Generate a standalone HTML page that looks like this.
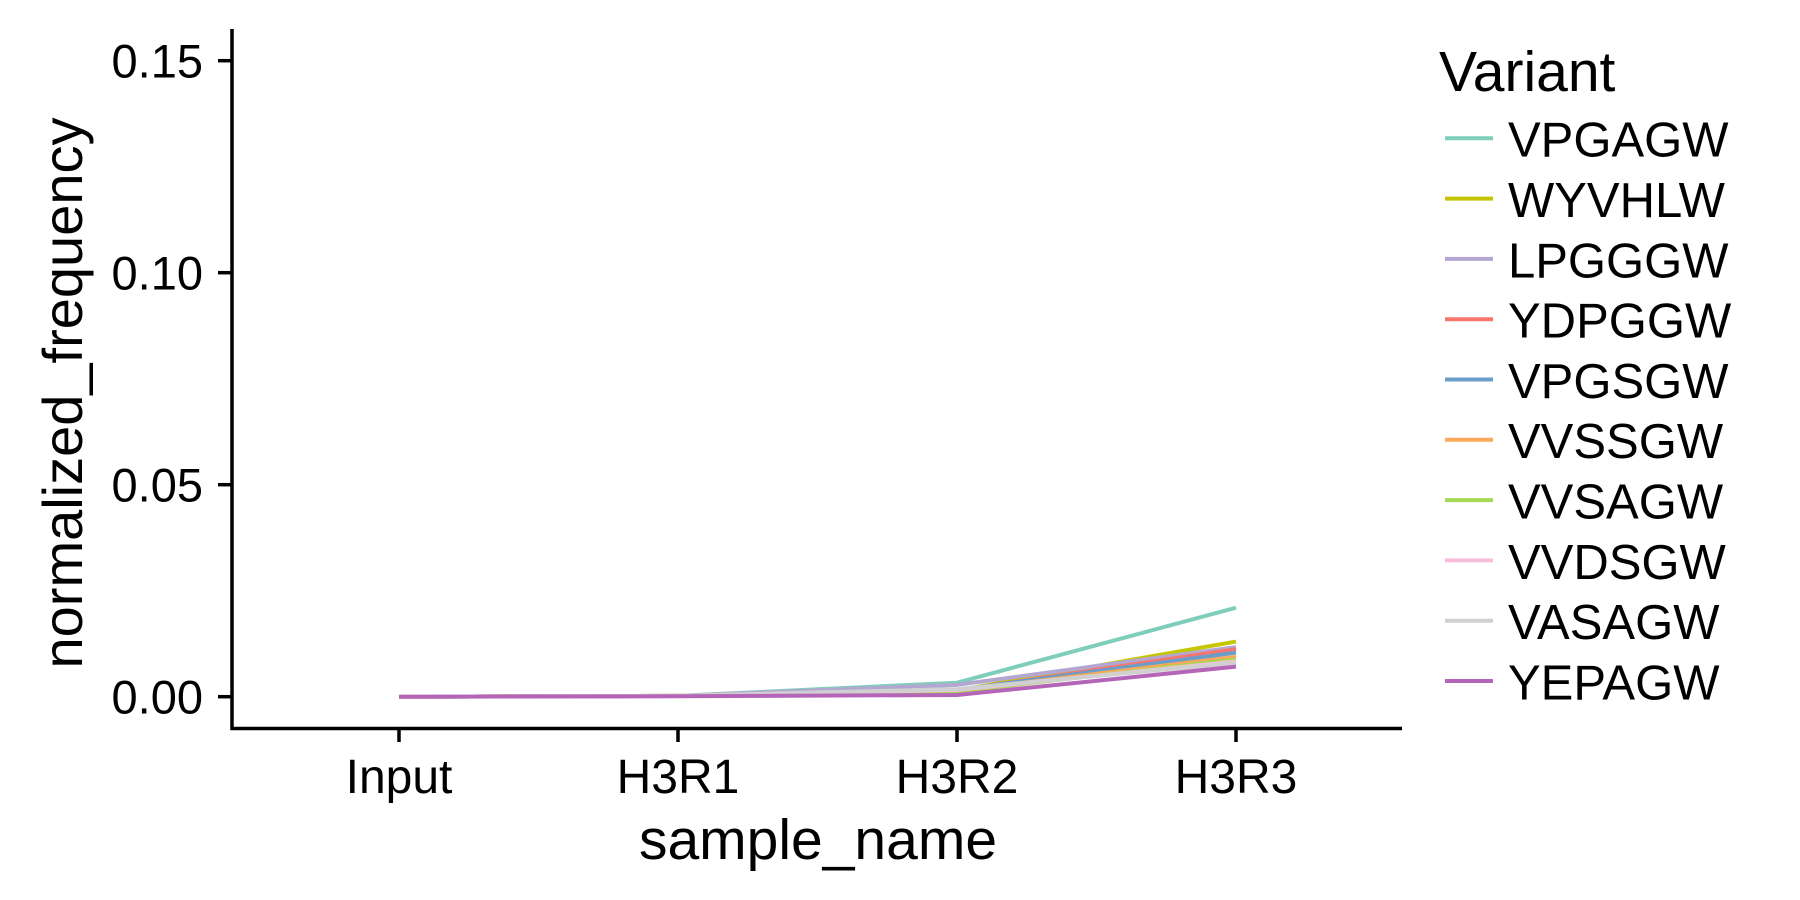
<!DOCTYPE html>
<html><head><meta charset="utf-8"><style>
html,body{margin:0;padding:0;background:#fff;}
svg{display:block;font-family:"Liberation Sans",Arial,sans-serif;}
</style></head><body>
<svg id="chart" width="1800" height="900" viewBox="0 0 1800 900">
<g id="axes"></g>
<g id="lines"></g>
<g id="legend"></g>
<text x="69" y="380" font-size="56" text-anchor="middle" transform="rotate(-90 82 380)">normalized_frequency</text>
<text x="818" y="859" font-size="57" text-anchor="middle">sample_name</text>
</svg>
<script>
const categories = ["Input","H3R1","H3R2","H3R3"];
const variants = ["VPGAGW","WYVHLW","LPGGGW","YDPGGW","VPGSGW","VVSSGW","VVSAGW","VVDSGW","VASAGW","YEPAGW"];
const colors = ["#7fcdbb","#c6c600","#b3a7d1","#f8766d","#6a9ec9","#fda75a","#a6d854","#f7bedc","#d0d0d0","#b565b8"];
const sVPGAGW = [0,0.0002,0.0033,0.0210];
const sWYVHLW = [0,0.0002,0.0015,0.0130];
const sLPGGGW = [0,0.0002,0.0028,0.0117];
const sYDPGGW = [0,0.0002,0.0015,0.0112];
const sVPGSGW = [0,0.0002,0.0016,0.0104];
const sVVSSGW = [0,0.0002,0.0014,0.0094];
const sVVSAGW = [0,0.0002,0.0012,0.0088];
const sVVDSGW = [0,0.0002,0.0016,0.0083];
const sVASAGW = [0,0.0002,0.0018,0.0080];
const sYEPAGW = [0,0.0001,0.0004,0.0071];
const seriesValues = [sVPGAGW,sWYVHLW,sLPGGGW,sYDPGGW,sVPGSGW,sVVSSGW,sVVSAGW,sVVDSGW,sVASAGW,sYEPAGW];
const yTicks = [0,0.05,0.10,0.15];
const yTickLabels = ["0.00","0.05","0.10","0.15"];

const NS="http://www.w3.org/2000/svg";
const X0=399, XSTEP=279, Y0=696.7, YSCALE=4240;
function xPos(i){return X0+i*XSTEP;}
function yPos(v){return Y0-v*YSCALE;}
function mk(tag,attrs,parent){const e=document.createElementNS(NS,tag);for(const k in attrs)e.setAttribute(k,attrs[k]);parent.appendChild(e);return e;}

const axes=document.getElementById('axes');
let el=mk('line',{x1:232,y1:29,x2:232,y2:730,stroke:'#000','stroke-width':3.5},axes);


el=mk('line',{x1:230.5,y1:728.5,x2:1402,y2:728.5,stroke:'#000','stroke-width':3.5},axes);


yTicks.forEach((v,i)=>{
  const t=mk('line',{x1:218,y1:yPos(v),x2:232,y2:yPos(v),stroke:'#000','stroke-width':3.5},axes);
  
  
  const l=mk('text',{x:203,y:yPos(v)+17,'font-size':47,'text-anchor':'end'},axes);
  l.textContent=yTickLabels[i];
  
  
});
categories.forEach((c,i)=>{
  const t=mk('line',{x1:xPos(i),y1:728,x2:xPos(i),y2:742,stroke:'#000','stroke-width':3.5},axes);
  
  
  const l=mk('text',{x:xPos(i),y:793,'font-size':48,'text-anchor':'middle'},axes);
  l.textContent=c;
  
  
});

const lines=document.getElementById('lines');
seriesValues.forEach((vals,s)=>{
  const pts=vals.map((v,i)=>xPos(i)+','+yPos(v)).join(' ');
  const p=mk('polyline',{points:pts,fill:'none',stroke:colors[s],'stroke-width':4,'stroke-linejoin':'round'},lines);
  
  
});

const legend=document.getElementById('legend');
const title=mk('text',{x:1439,y:91,'font-size':57},legend);
title.textContent='Variant';


variants.forEach((v,i)=>{
  const g=mk('g',{},legend);
  
  
  const y=138.3+i*60.3;
  mk('line',{x1:1445,y1:y,x2:1493,y2:y,stroke:colors[i],'stroke-width':4},g);
  const t=mk('text',{x:1508,y:y+18.4,'font-size':49},g);
  t.textContent=v;
});
</script>
</body></html>
